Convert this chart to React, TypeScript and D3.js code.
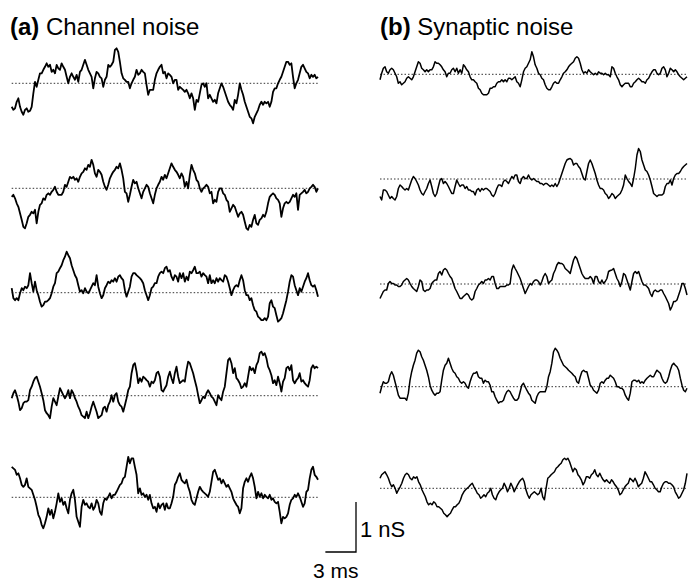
import React from 'react';
import * as d3 from 'd3';

// ---- DATA (conductance deviation from mean, nS; evenly sampled over 30 ms) ----
const durationMs = 30;

const channel1 = [-0.47,-0.53,-0.50,-0.37,-0.30,-0.47,-0.57,-0.63,-0.53,-0.50,-0.57,-0.55,-0.47,-0.20,0.03,-0.07,0.07,0.20,0.20,0.27,0.33,0.40,0.33,0.37,0.23,0.27,0.20,0.37,0.30,0.27,0.40,0.33,0.27,0.13,0,0.13,0.20,0.13,0.07,0.17,0.03,0.23,0.27,0.37,0.47,0.37,0.27,0.20,0.13,-0.10,0.10,0.23,0.20,0.13,0.10,-0.07,0.07,0.13,0.37,0.33,0.37,0.43,0.67,0.70,0.63,0.43,0.20,0.10,0.07,0.03,0.03,-0.10,0,0.07,0.13,0.27,0.17,0.20,0.27,0.23,0.20,-0.03,-0.23,-0.13,-0.13,-0.13,0.07,0.20,0.27,0.33,0.37,0.20,0.23,0.10,0.20,0.17,0.13,0,0.07,0.07,-0.13,-0.07,-0.10,-0.13,-0.17,-0.13,-0.20,-0.30,-0.20,-0.30,-0.53,-0.33,-0.37,-0.20,-0.03,0,-0.07,0,-0.30,-0.23,-0.30,-0.37,-0.33,-0.40,-0.20,-0.10,0,-0.07,-0.17,-0.27,-0.37,-0.43,-0.47,-0.53,-0.33,-0.40,-0.23,0,-0.13,-0.23,-0.37,-0.47,-0.57,-0.67,-0.70,-0.80,-0.67,-0.60,-0.53,-0.43,-0.37,-0.43,-0.37,-0.40,-0.37,-0.47,-0.37,-0.17,-0.10,-0.10,0,0.07,0.13,0.23,0.33,0.43,0.43,0.37,0.40,0.13,-0.10,0,0.07,0.20,0.33,0.37,0.30,0.23,0.20,0.10,0.17,0.13,0.17,0.10,0.13];

const channel2 = [-0.17,-0.13,-0.20,-0.30,-0.37,-0.50,-0.63,-0.77,-0.80,-0.70,-0.57,-0.53,-0.47,-0.50,-0.43,-0.70,-0.47,-0.33,-0.30,-0.20,-0.23,-0.13,-0.10,-0.13,-0.07,-0.03,0.03,-0.07,-0.13,-0.13,-0.13,-0.07,0.07,0.03,0.13,0.23,0.20,0.23,0.17,0.20,0.13,0.23,0.30,0.33,0.40,0.37,0.47,0.43,0.57,0.47,0.30,0.23,0.37,0.33,0.27,0.13,0.03,-0.03,0.07,0.20,0.27,0.33,0.37,0.43,0.40,0.50,0.37,0.20,-0.07,-0.10,-0.27,-0.13,0.03,0.17,0.10,0.13,0,-0.10,-0.20,-0.07,0,0.07,0.03,-0.10,-0.20,-0.30,-0.13,0,0.07,0.13,0.23,0.17,0.27,0.20,0.30,0.40,0.50,0.43,0.37,0.33,0.27,0.20,0.30,0.23,0.03,0.13,0,0.27,0.47,0.37,0.30,0.17,0.13,0,-0.07,0,0.03,0.07,0.03,-0.10,-0.07,-0.30,-0.23,-0.27,-0.07,0,0,-0.10,-0.13,-0.23,-0.27,-0.47,-0.40,-0.33,-0.37,-0.47,-0.57,-0.50,-0.47,-0.53,-0.67,-0.80,-0.83,-0.73,-0.77,-0.63,-0.53,-0.70,-0.73,-0.63,-0.60,-0.53,-0.57,-0.47,-0.30,-0.17,-0.13,-0.10,-0.13,-0.20,-0.23,-0.30,-0.57,-0.40,-0.30,-0.27,-0.30,-0.27,-0.20,-0.13,-0.17,-0.10,-0.43,-0.13,-0.10,-0.07,-0.03,-0.10,-0.07,0,0.03,0.07,0.03,-0.07,0];

const channel3 = [0.09,-0.11,-0.15,-0.11,-0.15,-0.01,0.09,0.05,0.12,0.09,0.15,0.39,0.19,0.02,0.22,0.05,-0.05,-0.18,-0.28,-0.25,-0.18,-0.18,-0.15,-0.11,-0.01,0.12,0.19,0.39,0.42,0.49,0.55,0.65,0.72,0.82,0.75,0.69,0.55,0.45,0.35,0.29,0.15,0.02,0.05,-0.01,0.09,0.02,-0.01,0.05,0.12,0.19,0.15,0.35,0.12,-0.01,-0.11,-0.05,0.09,0.15,0.22,0.19,0.25,0.22,0.29,0.22,0.32,0.35,0.29,0.25,0.05,-0.08,0.02,0.12,0.32,0.39,0.39,0.35,0.32,0.29,0.25,0.19,0.05,-0.05,-0.15,-0.05,0.09,0.12,0.19,0.19,0.32,0.39,0.42,0.39,0.49,0.52,0.42,0.45,0.32,0.25,0.35,0.32,0.22,0.39,0.29,0.39,0.22,0.32,0.25,0.42,0.39,0.45,0.52,0.39,0.39,0.42,0.32,0.39,0.35,0.32,0.19,0.35,0.19,0.25,0.19,0.29,0.22,0.29,0.25,0.22,0.35,0.32,0.22,0.09,-0.05,0.05,0.12,0.15,0.12,0.25,0.35,0.25,0.05,-0.05,-0.05,-0.15,-0.11,-0.25,-0.35,-0.38,-0.48,-0.51,-0.55,-0.55,-0.51,-0.55,-0.48,-0.21,-0.15,-0.28,-0.31,-0.45,-0.58,-0.55,-0.51,-0.41,-0.28,-0.15,0.02,0.22,0.35,0.32,0.15,0.05,-0.05,0.09,0.02,0.12,0.22,0.29,0.39,0.25,0.15,0.12,0.15,0.05,-0.08];

const channel4 = [-0.05,0.05,0.11,0.01,-0.12,-0.29,-0.25,-0.15,-0.12,-0.12,-0.09,0.11,0.18,0.28,0.35,0.38,0.28,0.18,0.05,-0.09,-0.29,-0.35,-0.39,-0.45,-0.22,-0.05,-0.12,-0.19,-0.02,0.15,0.08,0.01,-0.05,0.01,0.11,-0.05,0.11,0.05,-0.05,-0.12,-0.22,-0.29,-0.39,-0.42,-0.45,-0.32,-0.45,-0.35,-0.22,-0.12,-0.22,-0.32,-0.45,-0.42,-0.39,-0.25,-0.22,-0.32,-0.19,-0.12,0.01,-0.12,0.01,0.05,-0.12,-0.19,-0.22,-0.32,-0.19,-0.05,0.11,0.18,0.45,0.61,0.65,0.48,0.25,0.35,0.28,0.38,0.35,0.31,0.28,0.18,0.28,0.25,0.31,0.45,0.48,0.38,0.11,0.08,0.15,0.21,0.38,0.48,0.35,0.25,0.45,0.58,0.38,0.25,0.28,0.31,0.28,0.51,0.68,0.65,0.55,0.45,0.31,0.18,0.01,-0.15,-0.09,-0.02,-0.05,0.05,0.11,0.05,-0.02,-0.05,-0.12,-0.19,0.01,-0.05,-0.09,0.08,0.18,0.45,0.71,0.75,0.65,0.45,0.55,0.35,0.31,0.25,0.15,0.18,0.25,0.18,0.38,0.58,0.51,0.55,0.45,0.61,0.68,0.85,0.88,0.81,0.85,0.75,0.58,0.51,0.41,0.25,0.31,0.21,0.38,0.25,0.08,0.28,0.35,0.55,0.58,0.51,0.61,0.31,0.25,0.31,0.35,0.45,0.28,0.31,0.25,0.21,0.18,0.31,0.55,0.61,0.55,0.58,0.55];

const channel5 = [0.61,0.58,0.55,0.45,0.48,0.38,0.25,0.21,0.25,0.38,0.21,0.18,0.15,0.05,-0.05,-0.19,-0.35,-0.42,-0.55,-0.62,-0.52,-0.39,-0.22,-0.35,-0.25,-0.42,-0.29,-0.12,0.08,-0.09,-0.02,-0.15,-0.09,-0.22,-0.32,-0.05,0.08,0.15,-0.05,-0.39,-0.49,-0.59,-0.19,-0.05,-0.15,-0.12,-0.19,-0.22,-0.12,-0.25,-0.19,-0.05,-0.12,-0.29,-0.35,-0.12,-0.02,-0.05,0.01,0.08,-0.02,0.05,0.05,0.11,0.18,0.25,0.28,0.38,0.41,0.61,0.81,0.68,0.78,0.78,0.61,0.45,0.08,0.18,0.05,0.08,0.01,0.05,-0.05,0.05,-0.12,-0.22,-0.19,-0.29,-0.12,-0.22,-0.15,-0.12,-0.25,-0.12,-0.22,-0.22,-0.12,0.01,0.25,0.31,0.41,0.48,0.35,0.31,0.28,0.35,0.21,0.11,-0.05,-0.12,-0.15,-0.02,0.11,0.21,0.15,0.11,0.08,0.05,0.01,0.11,0.31,0.51,0.55,0.45,0.35,0.38,0.28,0.35,0.28,0.21,0.25,0.18,0.11,-0.02,-0.09,-0.15,-0.19,-0.32,-0.22,0.18,0.31,0.38,0.31,0.41,0.48,0.38,0.21,-0.02,0.11,0.01,0.08,-0.02,0.05,0.01,-0.02,0.05,-0.05,-0.02,-0.09,-0.12,-0.09,-0.29,-0.52,-0.39,-0.42,-0.39,-0.32,-0.15,-0.05,-0.02,0.05,0.01,0.08,0.01,-0.09,-0.19,-0.12,0.11,0.15,0.38,0.55,0.61,0.45,0.41,0.35];

const synaptic1 = [-0.11,0.02,0.12,0.15,0.05,0.02,0.09,0.12,0.09,0.02,-0.05,-0.18,-0.15,-0.21,-0.18,-0.15,-0.08,-0.05,-0.08,-0.11,-0.05,0.05,0.15,0.25,0.22,0.12,0.09,0.05,0.09,0.05,0.09,0.09,0.15,0.25,0.22,0.22,0.19,0.15,0.09,0.05,-0.05,0.02,0.02,0.09,0.12,0.05,0.12,0.02,0.09,0.02,0.19,0.15,0.09,0.05,-0.05,-0.11,-0.11,-0.15,-0.18,-0.28,-0.31,-0.38,-0.41,-0.41,-0.41,-0.38,-0.28,-0.28,-0.25,-0.25,-0.18,-0.15,-0.15,-0.11,-0.15,-0.11,-0.15,-0.08,-0.08,-0.11,-0.08,-0.05,-0.15,-0.18,-0.25,-0.11,0.05,0.12,0.15,0.22,0.29,0.45,0.35,0.19,0.12,0.02,-0.01,-0.08,-0.11,-0.21,-0.28,-0.31,-0.31,-0.25,-0.18,-0.15,-0.18,-0.18,-0.11,-0.05,0.02,0.05,0.09,0.15,0.19,0.22,0.25,0.32,0.35,0.32,0.22,0.09,0.02,0.05,0.02,0.09,0.05,0.02,-0.01,0.02,-0.01,0.05,0.02,0.02,-0.01,0.02,-0.01,-0.01,-0.05,0.15,0.12,0.02,-0.05,-0.11,-0.21,-0.25,-0.21,-0.18,-0.18,-0.18,-0.25,-0.25,-0.18,-0.15,-0.11,-0.08,-0.11,-0.15,-0.15,-0.18,-0.11,-0.08,-0.01,0.05,0.09,0.09,0.02,-0.01,0.02,0.12,0.15,0.09,-0.05,0.02,0.12,0.09,0.05,0.09,0.05,-0.01,-0.05,-0.08,-0.11,-0.08,-0.05];

const synaptic2 = [-0.35,-0.42,-0.22,-0.22,-0.25,-0.32,-0.39,-0.35,-0.39,-0.42,-0.35,-0.19,-0.12,-0.15,-0.19,-0.22,-0.19,-0.22,-0.12,-0.02,0.05,0.01,-0.05,-0.12,-0.22,-0.29,-0.32,-0.25,-0.19,-0.09,-0.02,-0.15,-0.29,-0.35,-0.29,-0.15,-0.02,0.01,-0.09,-0.05,-0.09,-0.15,-0.22,-0.29,-0.29,-0.15,-0.02,-0.09,-0.15,-0.12,-0.12,-0.19,-0.15,-0.22,-0.22,-0.25,-0.25,-0.32,-0.22,-0.19,-0.25,-0.19,-0.22,-0.19,-0.19,-0.22,-0.25,-0.32,-0.35,-0.29,-0.19,-0.12,-0.12,-0.15,-0.05,-0.02,-0.05,-0.09,-0.02,0.05,0.01,0.08,0.08,-0.05,-0.09,0.01,0.05,0.01,0.01,0.08,0.01,-0.02,0.01,-0.02,-0.05,-0.05,-0.09,-0.09,-0.12,-0.09,-0.09,-0.12,-0.15,-0.12,-0.15,-0.09,-0.15,-0.09,0.01,0.11,0.21,0.31,0.38,0.40,0.41,0.38,0.28,0.31,0.31,0.25,0.21,0.11,0.01,-0.02,0.15,0.31,0.38,0.31,0.21,0.11,-0.02,-0.12,-0.19,-0.19,-0.22,-0.29,-0.32,-0.39,-0.35,-0.29,-0.32,-0.39,-0.35,-0.32,-0.29,-0.22,-0.12,0.08,0.01,-0.05,-0.09,-0.15,0.01,0.21,0.48,0.61,0.55,0.38,0.28,0.18,0.15,0.08,-0.02,-0.15,-0.29,-0.32,-0.35,-0.32,-0.32,-0.32,-0.29,-0.15,-0.09,-0.09,-0.02,-0.12,0.01,0.08,0.11,0.11,0.15,0.21,0.25,0.28,0.31];

const synaptic3 = [-0.29,-0.22,-0.15,-0.12,-0.12,0.01,0.05,0.01,0.01,-0.02,-0.02,-0.05,-0.05,-0.02,0.05,0.08,0.11,0.08,0.01,-0.05,-0.09,-0.12,-0.15,-0.05,0.08,0.05,-0.12,-0.15,-0.12,-0.12,-0.09,0.01,0.05,0.08,0.08,0.21,0.25,0.18,0.28,0.31,0.28,0.21,0.15,0.11,0.01,-0.09,-0.15,-0.22,-0.29,-0.29,-0.25,-0.22,-0.19,-0.22,-0.29,-0.32,-0.29,-0.15,-0.09,-0.02,0.01,0.05,0.01,0.08,0.08,0.11,0.08,0.15,0.15,0.01,-0.09,-0.09,-0.05,-0.05,-0.05,-0.05,-0.02,-0.02,0.01,0.28,0.38,0.31,0.25,0.18,0.11,0.01,-0.09,-0.19,-0.12,-0.05,0.01,-0.02,0.05,0.08,0.08,0.05,-0.02,0.05,0.15,0.21,0.15,0.01,0.05,0.08,0.21,0.28,0.38,0.43,0.41,0.41,0.38,0.31,0.28,0.25,0.21,0.35,0.48,0.55,0.51,0.41,0.31,0.21,0.15,0.11,0.11,0.11,0.15,0.11,0.01,0.15,0.15,0.05,0.01,0.08,0.01,0.05,0.11,0.25,0.27,0.28,0.31,0.21,0.11,0.05,-0.05,0.05,0.21,0.18,0.08,-0.02,-0.12,0.05,0.21,0.25,0.21,0.25,0.15,0.05,-0.02,-0.02,-0.05,-0.09,-0.19,-0.25,-0.15,-0.12,-0.15,-0.15,-0.12,-0.12,-0.19,-0.25,-0.32,-0.39,-0.52,-0.45,-0.35,-0.35,-0.32,-0.22,-0.12,0.01,0.01,-0.09,-0.22];

const synaptic4 = [-0.13,0,0.10,0.07,0.07,0.10,0.23,0.30,0.23,0.10,-0.03,-0.17,-0.23,-0.23,-0.23,-0.23,-0.27,-0.13,0.13,0.30,0.43,0.53,0.67,0.73,0.70,0.60,0.53,0.43,0.33,0.20,0.03,-0.07,-0.13,-0.17,-0.13,-0.13,-0.10,0.13,0.33,0.43,0.47,0.57,0.47,0.37,0.30,0.27,0.20,0.17,0.10,0.07,0.10,0.07,0,-0.03,0.10,0.20,0.27,0.27,0.30,0.20,0.17,0.17,0.07,0.13,0.10,0.10,0.03,-0.10,-0.10,-0.20,-0.27,-0.33,-0.30,-0.30,-0.27,-0.17,-0.10,-0.07,-0.10,-0.17,-0.23,-0.27,-0.27,-0.23,-0.10,0.03,0.07,0,-0.07,-0.13,-0.17,-0.27,-0.30,-0.33,-0.20,-0.13,-0.10,-0.10,-0.10,-0.10,0,0.20,0.30,0.47,0.70,0.77,0.73,0.67,0.57,0.50,0.43,0.40,0.37,0.33,0.30,0.27,0.23,0.20,0.10,0.07,0.20,0.30,0.33,0.30,0.30,0.17,0.03,0,-0.07,-0.10,-0.13,-0.07,0.07,0.10,0.07,0.13,0.17,0.17,0.23,0.20,0.17,0.10,0,0,-0.03,-0.03,-0.07,-0.17,-0.23,-0.27,-0.13,0.10,0.13,0.13,0.10,0.13,0.07,0.10,0.07,0.13,0.17,0.20,0.23,0.20,0.20,0.27,0.33,0.30,0.27,0.17,0.10,0.07,0.10,0.20,0.33,0.43,0.47,0.43,0.40,0.33,0.17,0.03,-0.07,-0.10,-0.03];

const synaptic5 = [0.20,0.27,0.30,0.33,0.27,0.20,0.10,0.03,0.07,0,-0.10,-0.03,0.03,0.10,0.20,0.27,0.30,0.27,0.20,0.17,0.23,0.20,0.23,0.13,0.07,-0.03,-0.10,-0.17,-0.27,-0.33,-0.30,-0.33,-0.27,-0.30,-0.37,-0.37,-0.40,-0.43,-0.50,-0.53,-0.57,-0.53,-0.50,-0.43,-0.37,-0.37,-0.33,-0.30,-0.23,-0.13,-0.07,-0.03,0,0.03,0.07,0.10,0.03,-0.03,-0.10,-0.13,-0.20,-0.17,-0.13,-0.17,-0.10,-0.07,0,-0.13,-0.20,-0.23,-0.13,-0.07,-0.03,0,0.10,0.03,-0.07,0,0.10,0.03,-0.07,0,0.07,0.13,0.17,0.20,0.13,-0.03,-0.13,-0.20,-0.13,-0.10,-0.07,-0.10,-0.13,-0.10,0,-0.17,-0.23,0,0.20,0.23,0.27,0.30,0.33,0.40,0.43,0.47,0.50,0.57,0.60,0.57,0.60,0.53,0.43,0.33,0.40,0.37,0.27,0.23,0.17,0.07,0.13,0.23,0.23,0.20,0.27,0.30,0.37,0.27,0.23,0.30,0.23,0.17,0.13,0.17,0.13,0.10,0.17,0.13,0.07,0.03,-0.03,-0.13,-0.10,-0.03,0.03,0.07,0.10,0.20,0.17,0.13,0.20,0.13,0.03,0.07,0.10,0.20,0.33,0.27,0.20,0.13,0.13,0.07,0,-0.03,-0.07,-0.07,0.03,0.10,0.13,0.13,0.10,0.10,0.07,0.03,-0.07,-0.13,-0.20,-0.17,-0.10,-0.03,0.10,0.30];

const channelTraces = [channel1, channel2, channel3, channel4, channel5];
const synapticTraces = [synaptic1, synaptic2, synaptic3, synaptic4, synaptic5];

const panelLabels = ['(a)', '(b)'];
const panelTitles = ['Channel noise', 'Synaptic noise'];
const scaleBarTimeMs = 3;
const scaleBarConductanceNs = 1;
const scaleBarTimeLabel = '3 ms';
const scaleBarConductanceLabel = '1 nS';

// ---- LAYOUT ----
const W = 688;
const H = 581;
const pxPerNs = 50;
const leftBaselines = [83.3, 188.3, 292.7, 395.7, 497.3];
const rightBaselines = [74.3, 179, 284, 386.7, 488.3];
const FONT = '"Liberation Sans", Arial, Helvetica, sans-serif';

export default function App() {
  const xLeft = d3.scaleLinear().domain([0, durationMs]).range([11.7, 318]);
  const xRight = d3.scaleLinear().domain([0, durationMs]).range([380, 687]);
  const yOff = d3.scaleLinear().domain([0, 1]).range([0, -pxPerNs]);

  const makePath = (vals: number[], x: d3.ScaleLinear<number, number>, base: number) => {
    const n = vals.length;
    const line = d3
      .line<number>()
      .x((_, i) => x((i * durationMs) / (n - 1)))
      .y((d) => base + yOff(d));
    return line(vals) || '';
  };

  const columns = [
    { traces: channelTraces, x: xLeft, bases: leftBaselines, sw: 1.8 },
    { traces: synapticTraces, x: xRight, bases: rightBaselines, sw: 1.5 },
  ];

  // scale bar
  const cornerX = 356;
  const cornerY = 552;
  const barW = xLeft(scaleBarTimeMs) - xLeft(0);
  const barH = -yOff(scaleBarConductanceNs);

  return (
    <svg
      width={W}
      height={H}
      viewBox={`0 0 ${W} ${H}`}
      style={{ position: 'absolute', left: 0, top: 0, background: '#fff' }}
    >
      <rect x={0} y={0} width={W} height={H} fill="#fff" />
      {columns.map((col, ci) => (
        <g key={ci}>
          {col.traces.map((vals, ti) => {
            const base = col.bases[ti];
            const [x0, x1] = col.x.range();
            return (
              <g key={ti}>
                <line
                  x1={x0}
                  x2={x1}
                  y1={base}
                  y2={base}
                  stroke="#333"
                  strokeWidth={1}
                  strokeDasharray="1.5,2"
                />
                <path
                  d={makePath(vals, col.x, base)}
                  fill="none"
                  stroke="#000"
                  strokeWidth={col.sw}
                  strokeLinejoin="round"
                />
              </g>
            );
          })}
        </g>
      ))}
      {[10, 380].map((tx, i) => (
        <text key={i} x={tx} y={35} fontFamily={FONT} fontSize={24} fill="#000">
          <tspan fontWeight="bold">{panelLabels[i]}</tspan>
          <tspan> {panelTitles[i]}</tspan>
        </text>
      ))}
      <path
        d={`M${cornerX},${cornerY - barH}V${cornerY}H${cornerX - barW}`}
        fill="none"
        stroke="#000"
        strokeWidth={1.3}
      />
      <text x={cornerX + 4} y={537} fontFamily={FONT} fontSize={22} fill="#000">
        {scaleBarConductanceLabel}
      </text>
      <text x={cornerX - barW / 2 - 5} y={578} fontFamily={FONT} fontSize={21} fill="#000" textAnchor="middle">
        {scaleBarTimeLabel}
      </text>
    </svg>
  );
}
